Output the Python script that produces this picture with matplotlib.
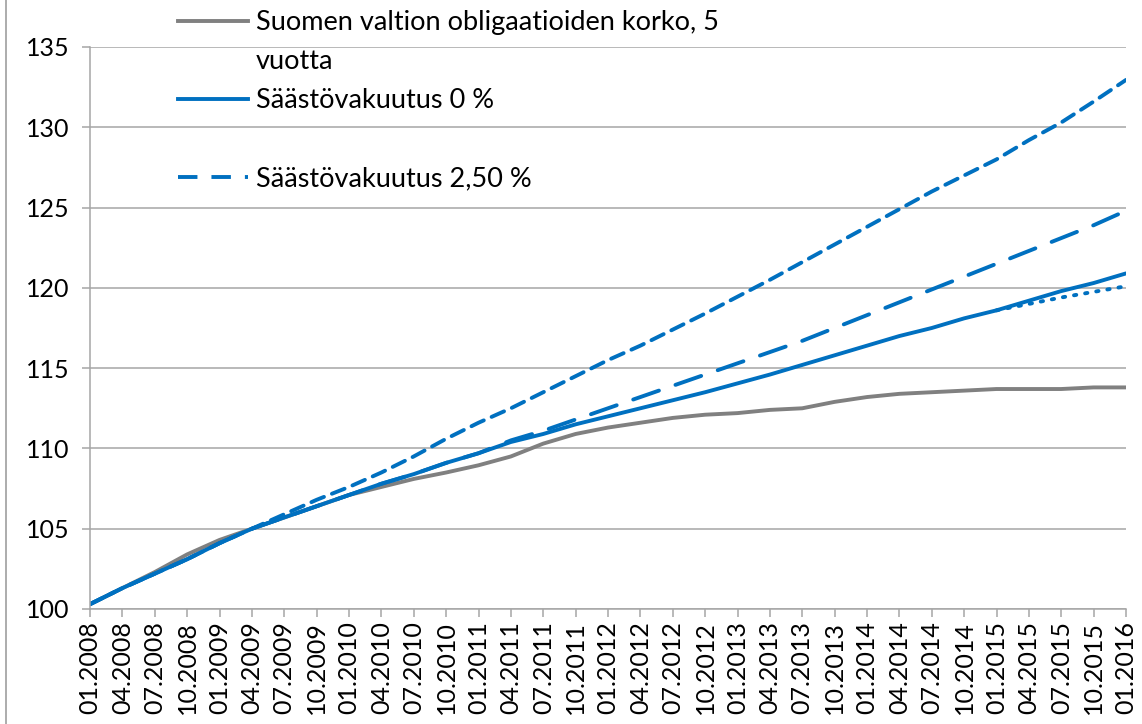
import matplotlib.pyplot as plt
import numpy as np
from matplotlib.lines import Line2D

# quarters 01.2008 .. 01.2016
quarters = ["01.2008", "04.2008", "07.2008", "10.2008",
            "01.2009", "04.2009", "07.2009", "10.2009",
            "01.2010", "04.2010", "07.2010", "10.2010",
            "01.2011", "04.2011", "07.2011", "10.2011",
            "01.2012", "04.2012", "07.2012", "10.2012",
            "01.2013", "04.2013", "07.2013", "10.2013",
            "01.2014", "04.2014", "07.2014", "10.2014",
            "01.2015", "04.2015", "07.2015", "10.2015",
            "01.2016"]

obligaatio = [100.3, 101.3, 102.3, 103.4, 104.3, 105.0, 105.7, 106.4,
              107.1, 107.6, 108.1, 108.5, 108.95, 109.5, 110.3, 110.9,
              111.3, 111.6, 111.9, 112.1, 112.2, 112.4, 112.5, 112.9,
              113.2, 113.4, 113.5, 113.6, 113.7, 113.7, 113.7, 113.8,
              113.8]

saasto_0 = [100.3, 101.3, 102.2, 103.1, 104.1, 105.0, 105.7, 106.4,
            107.1, 107.8, 108.4, 109.1, 109.7, 110.4, 110.9, 111.5,
            112.0, 112.5, 113.0, 113.5, 114.05, 114.6, 115.2, 115.8,
            116.4, 117.0, 117.5, 118.1, 118.6, 119.2, 119.8, 120.3,
            120.9]

saasto_250 = [100.3, 101.3, 102.2, 103.1, 104.1, 105.0, 105.7, 106.4,
              107.1, 107.8, 108.4, 109.1, 109.7, 110.5, 111.1, 111.8,
              112.5, 113.2, 113.9, 114.6, 115.3, 116.0, 116.7, 117.5,
              118.3, 119.1, 119.9, 120.7, 121.5, 122.3, 123.1, 123.9,
              124.8]

saasto_high = [100.3, 101.3, 102.2, 103.1, 104.1, 105.0, 105.9, 106.8,
               107.6, 108.5, 109.5, 110.6, 111.6, 112.5, 113.5, 114.5,
               115.5, 116.4, 117.4, 118.4, 119.45, 120.5, 121.6, 122.7,
               123.8, 124.9, 126.0, 127.0, 128.0, 129.2, 130.3, 131.6,
               132.95]

# dotted series only from 01.2015 on
dotted_start = 28
saasto_dotted = [118.6, 119.0, 119.4, 119.75, 120.1]

BLUE = "#0070C0"
GRAY = "#808080"
GRID = "#A6A6A6"

plt.rcParams['font.family'] = ['Lato', 'DejaVu Sans']

fig = plt.figure(figsize=(11.42, 7.24), dpi=100)
ax = fig.add_axes([90 / 1142, 1 - 609 / 724, (1126 - 90) / 1142, (609 - 47) / 724])

x = np.arange(len(quarters))
lw = 2.8
ax.plot(x, obligaatio, color=GRAY, lw=lw, solid_capstyle='round')
ax.plot(x, saasto_high, color=BLUE, lw=lw, dashes=(3.5, 2.2), dash_capstyle='round')
ax.plot(x, saasto_250, color=BLUE, lw=lw, dashes=(7, 4.5), dash_capstyle='round')
ax.plot(x[dotted_start:], saasto_dotted, color=BLUE, lw=lw, dashes=(0.6, 2.3), dash_capstyle='round')
ax.plot(x, saasto_0, color=BLUE, lw=lw, solid_capstyle='round')

ax.set_xlim(0, len(quarters) - 1)
ax.set_ylim(100, 135)
ax.set_yticks(np.arange(100, 136, 5))
ax.set_xticks(x)
ax.set_xticklabels(quarters, rotation=90)

ax.grid(axis='y', color=GRID, lw=1.1)
ax.set_axisbelow(True)
for s in ['top', 'right']:
    ax.spines[s].set_visible(False)
for s in ['left', 'bottom']:
    ax.spines[s].set_color(GRID)
    ax.spines[s].set_linewidth(1.1)
ax.tick_params(axis='both', colors=GRID, labelcolor='black', labelsize=18, width=1.1)
ax.tick_params(axis='y', length=6, pad=9)
ax.tick_params(axis='x', length=5.5, pad=3)

# legend: second text line and blank row as empty entries
handles = [Line2D([], [], color=GRAY, lw=lw),
           Line2D([], [], color='none'),
           Line2D([], [], color=BLUE, lw=lw),
           Line2D([], [], color='none'),
           Line2D([], [], color=BLUE, lw=lw, dashes=(5, 3.6))]
labels = ["Suomen valtion obligaatioiden korko, 5",
          "vuotta",
          "Säästövakuutus 0 %",
          " ",
          "Säästövakuutus 2,50 %"]
leg = fig.legend(handles, labels, loc='upper left', bbox_to_anchor=(178 / 1142, 0.986),
                 frameon=False, fontsize=19.5, handlelength=2.6, handletextpad=0.28,
                 labelspacing=0.52, borderpad=0, borderaxespad=0)

# chart border, visible at the left edge
fig.add_artist(Line2D([6 / 1142, 6 / 1142], [0, 1], transform=fig.transFigure,
                      color=GRID, lw=1.3))

fig.savefig("out.png", dpi=100)
